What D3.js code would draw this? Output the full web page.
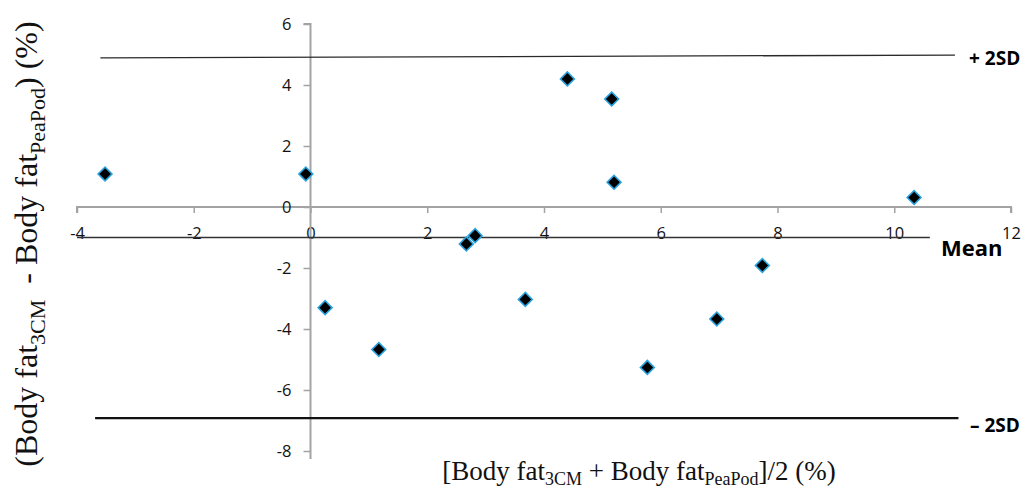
<!DOCTYPE html>
<html>
<head>
	<meta charset="utf-8">
	<title>bland-altman body fat</title>
	<script src="https://d3js.org/d3.v7.min.js"></script>
	<style>
		body { margin: 0; background: #fff; }
		svg { display: block; }
	</style>
</head>
<body>
	<svg width="1030" height="490"></svg>
	<script type="text/javascript">
		// mean of both methods (x) vs difference 3CM - PeaPod (y)
		var meanVals = [-3.52, -0.08, 4.40, 5.16, 5.20, 10.34, 2.67, 2.82, 3.68, 5.77, 7.74, 0.25, 1.17, 6.96];
		var diffVals = [ 1.08,  1.08, 4.20, 3.54, 0.81,  0.31, -1.21, -0.94, -3.03, -5.26, -1.92, -3.30, -4.67, -3.67];

		var xTicks = [-4, -2, 0, 2, 4, 6, 8, 10, 12];
		var yTicks = [-8, -6, -4, -2, 0, 2, 4, 6];

		// limits of agreement, drawn by hand in the original (slightly tilted)
		var refNames = ['+ 2SD', 'Mean', '\u2013 2SD'];
		var refX0 = [-3.60, -4.00, -3.69];
		var refX1 = [11.04, 10.61, 11.10];
		var refY0 = [4.89, -1.00, -6.92];
		var refY1 = [4.98, -1.00, -6.92];

		var data = meanVals.map((m, i) => ({ x: m, y: diffVals[i] }));

		var svg = d3.select('svg');

		var x = d3.scaleLinear().domain([-4, 12]).range([77, 1011]);
		var y = d3.scaleLinear().domain([-8, 6]).range([451, 24]);

		var axisColor = '#a3a3a3';
		var plain = d => String(d);   // hyphen minus, like the original

		// x axis through y = 0
		var gx = svg.append('g')
			.attr('transform', 'translate(0,' + y(0) + ')')
			.call(d3.axisBottom(x).tickValues(xTicks).tickSize(6).tickPadding(0).tickFormat(plain));
		gx.select('.domain').attr('stroke', axisColor).attr('stroke-width', 2).attr('d', 'M' + x(-4) + ',6V0H' + x(12) + 'V6');
		gx.selectAll('.tick line').attr('stroke', axisColor).attr('stroke-width', 1.5);
		gx.selectAll('.tick text')
			.attr('y', 32).attr('dy', 0)
			.style('font-family', 'Open Sans').style('font-size', '16.5px').style('fill', '#111');

		// y axis through x = 0
		var gy = svg.append('g')
			.attr('transform', 'translate(' + x(0) + ',0)')
			.call(d3.axisLeft(y).tickValues(yTicks).tickSize(7).tickPadding(12).tickFormat(plain));
		gy.select('.domain').attr('stroke', axisColor).attr('stroke-width', 2).attr('d', 'M-7,' + y(6) + 'H0V' + (y(-8) + 8));
		gy.selectAll('.tick line').attr('stroke', axisColor).attr('stroke-width', 1.5);
		gy.selectAll('.tick text')
			.style('font-family', 'Open Sans').style('font-size', '16.5px').style('fill', '#111');

		// reference lines
		var refWidths = [1.3, 1.6, 2.2];
		var refColors = ['#2a2a2a', '#333', '#111'];
		refNames.forEach((name, i) => {
			svg.append('line')
				.attr('x1', x(refX0[i])).attr('y1', y(refY0[i]))
				.attr('x2', x(refX1[i])).attr('y2', y(refY1[i]))
				.attr('stroke', refColors[i]).attr('stroke-width', refWidths[i]);
		});

		var labelPos = [[969, 65, 19], [941, 256, 22], [970, 432, 19]];
		refNames.forEach((name, i) => {
			svg.append('text')
				.attr('x', labelPos[i][0]).attr('y', labelPos[i][1])
				.attr('font-family', 'Open Sans').attr('font-weight', 'bold')
				.attr('font-size', labelPos[i][2]).attr('fill', '#000')
				.text(name);
		});

		// diamonds
		svg.append('g').selectAll('path')
			.data(data)
			.enter().append('path')
			.attr('d', d3.symbol().type(d3.symbolSquare).size(96))
			.attr('transform', d => 'translate(' + x(d.x) + ',' + y(d.y) + ') rotate(45)')
			.attr('fill', '#000')
			.attr('stroke', '#29a3e0')
			.attr('stroke-width', 1.6);

		// axis titles
		var xt = svg.append('text')
			.attr('x', 639).attr('y', 480)
			.attr('text-anchor', 'middle')
			.attr('font-family', 'Liberation Serif').attr('font-size', 27).attr('fill', '#111');
		xt.append('tspan').text('[Body fat');
		xt.append('tspan').attr('font-size', 18).attr('dy', 5).text('3CM');
		xt.append('tspan').attr('dy', -5).text(' + Body fat');
		xt.append('tspan').attr('font-size', 18).attr('dy', 5).text('PeaPod');
		xt.append('tspan').attr('dy', -5).text(']/2 (%)');

		var yt = svg.append('text')
			.attr('transform', 'translate(37,244) rotate(-90)')
			.attr('text-anchor', 'middle')
			.attr('font-family', 'Liberation Serif').attr('font-size', 32).attr('fill', '#111')
			.attr('xml:space', 'preserve');
		yt.append('tspan').text('(Body fat');
		yt.append('tspan').attr('font-size', 22).attr('dy', 8).text('3CM');
		yt.append('tspan').attr('dy', -8).text('  - Body fat');
		yt.append('tspan').attr('font-size', 22).attr('dy', 8).text('PeaPod');
		yt.append('tspan').attr('dy', -8).text(') (%)');
	</script>
</body>
</html>
